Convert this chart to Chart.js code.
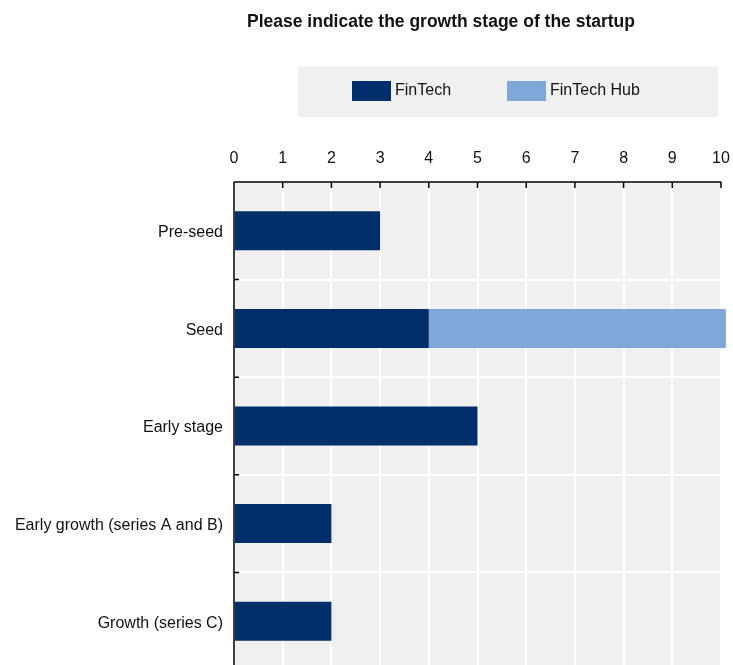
<!DOCTYPE html>
<html>
<head>
<meta charset="utf-8">
<title>Growth stage of the startup</title>
<script src="https://cdn.jsdelivr.net/npm/chart.js@4.4.1/dist/chart.umd.min.js"></script>
<style>
  html, body { margin: 0; padding: 0; background: #ffffff; overflow: hidden; }
  #wrap { position: relative; width: 733px; height: 665px; overflow: hidden; }
</style>
</head>
<body>
<div id="wrap"><canvas id="chart" width="733" height="672"></canvas></div>
<script>
// Survey answers: number of startups per growth stage
const stages = ['Pre-seed', 'Seed', 'Early stage', 'Early growth (series A and B)', 'Growth (series C)'];
const finTech = [3, 4, 5, 2, 2];
const finTechHub = [0, 6.1, 0, 0, 0];
const xTicks = [0, 1, 2, 3, 4, 5, 6, 7, 8, 9, 10];

const chartTitle = 'Please indicate the growth stage of the startup';
const FONT = '"Liberation Sans", Arial, Helvetica, sans-serif';
const TEXT = '#111111';
const PANEL = '#f0f0f0';

// Grey panel behind the plotting area
const panelBackground = {
  id: 'panelBackground',
  beforeDraw(chart) {
    const { ctx, chartArea: a } = chart;
    ctx.save();
    ctx.fillStyle = PANEL;
    ctx.fillRect(a.left, a.top, a.right - a.left, a.bottom - a.top);
    ctx.restore();
  }
};

// Black axis lines with short inward tick marks
const axisLines = {
  id: 'axisLines',
  afterDatasetsDraw(chart) {
    const { ctx, chartArea: a, scales } = chart;
    const x = scales.x, y = scales.y;
    ctx.save();
    ctx.strokeStyle = '#000000';
    ctx.lineWidth = 1.5;
    ctx.beginPath();
    ctx.moveTo(a.left, a.top);
    ctx.lineTo(a.right, a.top);
    ctx.moveTo(a.left, a.top);
    ctx.lineTo(a.left, chart.height);
    xTicks.forEach(v => {
      const px = x.getPixelForValue(v);
      ctx.moveTo(px, a.top);
      ctx.lineTo(px, a.top + 6);
    });
    for (let i = 1; i < stages.length; i++) {
      const py = (y.getPixelForValue(i - 1) + y.getPixelForValue(i)) / 2;
      ctx.moveTo(a.left, py);
      ctx.lineTo(a.left + 5, py);
    }
    ctx.stroke();
    ctx.restore();
  }
};

// Title and legend panel at the top of the figure
const header = {
  id: 'header',
  afterDraw(chart) {
    const ctx = chart.ctx;
    ctx.save();
    ctx.fillStyle = TEXT;
    ctx.font = 'bold 17.5px ' + FONT;
    ctx.textAlign = 'center';
    ctx.textBaseline = 'middle';
    ctx.fillText(chartTitle, 441, 22);

    ctx.fillStyle = PANEL;
    ctx.fillRect(298, 66, 420, 51);

    const items = [
      { ds: chart.data.datasets[0], x: 352 },
      { ds: chart.data.datasets[1], x: 507 }
    ];
    ctx.font = '16px ' + FONT;
    ctx.textAlign = 'left';
    items.forEach(it => {
      ctx.fillStyle = it.ds.backgroundColor;
      ctx.fillRect(it.x, 81, 39, 20);
      ctx.fillStyle = TEXT;
      ctx.fillText(it.ds.label, it.x + 43, 91);
    });
    ctx.restore();
  }
};

new Chart(document.getElementById('chart'), {
  type: 'bar',
  data: {
    labels: stages,
    datasets: [
      { label: 'FinTech', data: finTech, backgroundColor: '#002f6c', clip: false },
      { label: 'FinTech Hub', data: finTechHub, backgroundColor: '#7fa8d9', clip: false }
    ]
  },
  options: {
    indexAxis: 'y',
    responsive: false,
    animation: false,
    events: [],
    layout: { padding: { top: 142, left: 0, right: 12, bottom: 2 } },
    datasets: { bar: { categoryPercentage: 1, barPercentage: 0.4 } },
    plugins: {
      legend: { display: false },
      title: { display: false },
      tooltip: { enabled: false }
    },
    scales: {
      x: {
        position: 'top',
        stacked: true,
        min: 0,
        max: 10,
        afterFit(scale) {
          scale.height = 40;
          scale.paddingLeft = 0;
          scale.paddingRight = 0;
        },
        afterBuildTicks(scale) { scale.ticks = xTicks.map(v => ({ value: v })); },
        grid: { color: '#ffffff', lineWidth: 2, drawTicks: false },
        border: { display: false },
        ticks: { padding: 14, color: TEXT, font: { family: FONT, size: 16 } }
      },
      y: {
        stacked: true,
        afterFit(scale) {
          scale.width = 234;
          scale.paddingTop = 0;
          scale.paddingBottom = 0;
        },
        grid: { color: '#ffffff', lineWidth: 2, drawTicks: false, offset: true },
        border: { display: false },
        ticks: { padding: 11, labelOffset: 2, color: TEXT, font: { family: FONT, size: 16 } }
      }
    }
  },
  plugins: [panelBackground, axisLines, header]
});
</script>
</body>
</html>
